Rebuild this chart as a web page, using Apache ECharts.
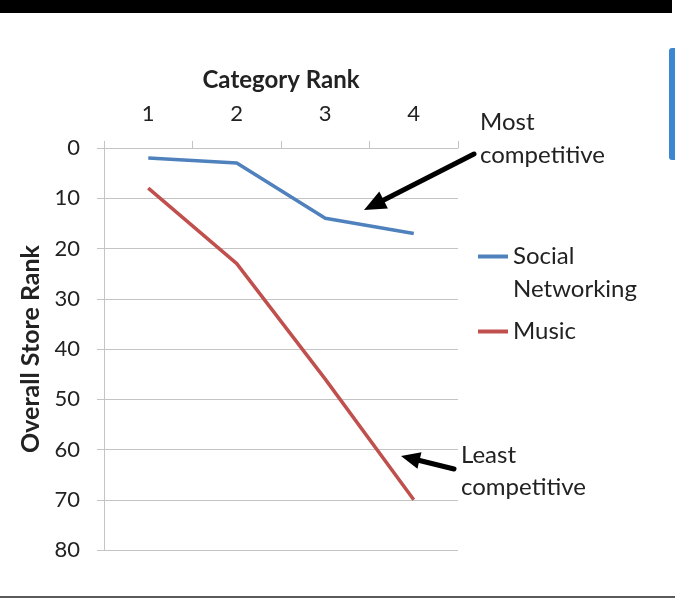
<!DOCTYPE html>
<html>
<head>
<meta charset="utf-8">
<script src="https://cdn.jsdelivr.net/npm/echarts@6/dist/echarts.min.js"></script>
<style>html,body{margin:0;padding:0;background:#fff}#c{width:675px;height:600px}</style>
</head>
<body>
<div id="c"></div>
<script>
var categories = ['1', '2', '3', '4'];
var socialNetworking = [2, 3, 14, 17];
var music = [8, 23, 46, 70];
var yTicks = [0, 10, 20, 30, 40, 50, 60, 70, 80];
var seriesNames = ['Social Networking', 'Music'];

var FONT = 'Lato';
var TXT = '#222';
var GRID = '#c4c4c4';

function arrow(x1, y1, x2, y2, headLen, headW, lw) {
  var dx = x2 - x1, dy = y2 - y1, L = Math.sqrt(dx * dx + dy * dy);
  var ux = dx / L, uy = dy / L, px = -uy, py = ux;
  var bx = x2 - ux * headLen, by = y2 - uy * headLen;
  return [
    { type: 'line', shape: { x1: x1, y1: y1, x2: bx + ux * 2, y2: by + uy * 2 }, style: { stroke: '#000', lineWidth: lw, lineCap: 'round' }, z: 10 },
    { type: 'polygon', shape: { points: [[x2, y2], [bx + px * headW / 2, by + py * headW / 2], [bx - px * headW / 2, by - py * headW / 2]] }, style: { fill: '#000' }, z: 10 }
  ];
}

var chart = echarts.init(document.getElementById('c'), null, { renderer: 'canvas' });
var graphics = [
  { type: 'rect', shape: { x: 0, y: 0, width: 672, height: 13 }, style: { fill: '#000' } },
  { type: 'rect', shape: { x: 669, y: 48, width: 12, height: 112, r: 3 }, style: { fill: '#3d86d2' } },
  { type: 'rect', shape: { x: 0, y: 596, width: 675, height: 2 }, style: { fill: '#5a5a5a' } },
  { type: 'text', left: 480, top: 106, style: { text: 'Most\ncompetitive', font: '24px ' + FONT, fill: TXT, lineHeight: 33 } },
  { type: 'text', left: 461, top: 439, style: { text: 'Least\ncompetitive', font: '24px ' + FONT, fill: TXT, lineHeight: 32 } }
].concat(arrow(474, 154, 364, 210, 22, 19, 5)).concat(arrow(454, 469, 401, 456, 19, 17, 5));

chart.setOption({
  animation: false,
  backgroundColor: '#fff',
  grid: { left: 104, top: 148, right: 217, bottom: 50, containLabel: false },
  legend: [
    {
      data: [{ name: seriesNames[0], icon: 'rect' }],
      orient: 'vertical', left: 478, top: 207, padding: 0,
      itemWidth: 30, itemHeight: 4, itemGap: 10,
      formatter: function () { return '\nSocial\nNetworking'; },
      textStyle: { fontFamily: FONT, fontSize: 24, color: TXT, lineHeight: 33 }
    },
    {
      data: [{ name: seriesNames[1], icon: 'rect' }],
      orient: 'vertical', left: 478, top: 315, padding: 0,
      itemWidth: 30, itemHeight: 4,
      textStyle: { fontFamily: FONT, fontSize: 24, color: TXT, lineHeight: 33 }
    }
  ],
  xAxis: {
    type: 'category', position: 'top', data: categories, boundaryGap: true,
    name: 'Category Rank', nameLocation: 'middle', nameGap: 56,
    nameTextStyle: { fontFamily: FONT, fontSize: 24, fontWeight: 'bold', color: TXT },
    axisLine: { show: true, lineStyle: { color: GRID, width: 1 } },
    axisTick: { show: true, length: 7, alignWithLabel: false, lineStyle: { color: GRID } },
    axisLabel: { fontFamily: FONT, fontSize: 22, color: TXT, margin: 23 },
    splitLine: { show: false }
  },
  yAxis: {
    type: 'value', inverse: true, min: yTicks[0], max: yTicks[yTicks.length - 1], interval: 10,
    name: 'Overall Store Rank', nameLocation: 'middle', nameGap: 58,
    nameTextStyle: { fontFamily: FONT, fontSize: 25, fontWeight: 'bold', color: TXT },
    axisLine: { show: true, lineStyle: { color: GRID, width: 1 } },
    axisTick: { show: true, length: 7, lineStyle: { color: GRID } },
    axisLabel: { fontFamily: FONT, fontSize: 22, color: TXT, margin: 24 },
    splitLine: { show: true, lineStyle: { color: GRID, width: 1 } }
  },
  series: [
    { name: seriesNames[0], type: 'line', data: socialNetworking, symbol: 'none', color: '#4F81BD', lineStyle: { width: 3.5, color: '#4F81BD' } },
    { name: seriesNames[1], type: 'line', data: music, symbol: 'none', color: '#C0504D', lineStyle: { width: 3.5, color: '#C0504D' } }
  ],
  graphic: graphics
});
</script>
</body>
</html>
